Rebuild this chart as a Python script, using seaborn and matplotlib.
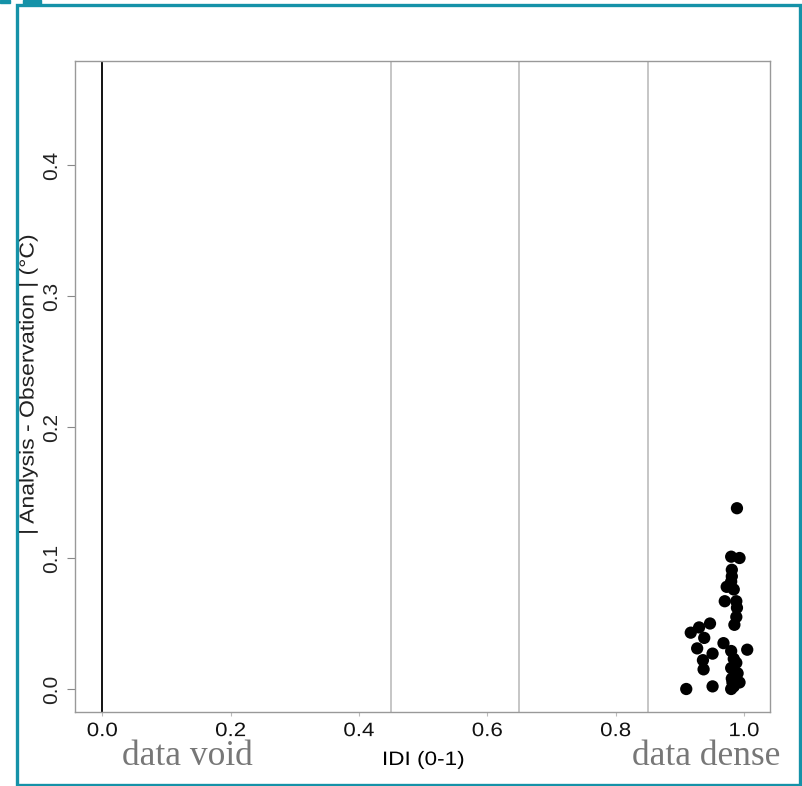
import matplotlib
matplotlib.use("Agg")
import matplotlib.pyplot as plt
from matplotlib.patches import Rectangle
from matplotlib.patheffects import AbstractPathEffect
from matplotlib.transforms import Affine2D
import seaborn as sns
import pandas as pd

# Data
idi = [0.989, 0.980, 0.993, 0.981, 0.981, 0.980, 0.973, 0.984, 0.970, 0.988,
       0.989, 0.988, 0.985, 0.947, 0.930, 0.917, 0.938, 0.968, 0.927, 1.005,
       0.951, 0.980, 0.984, 0.936, 0.988, 0.937, 0.980, 0.990, 0.981, 0.982,
       0.993, 0.910, 0.951, 0.980, 0.984]
abs_err = [0.138, 0.101, 0.100, 0.091, 0.086, 0.082, 0.078, 0.076, 0.067, 0.067,
           0.062, 0.055, 0.049, 0.050, 0.047, 0.043, 0.039, 0.035, 0.031, 0.030,
           0.027, 0.029, 0.023, 0.022, 0.020, 0.015, 0.016, 0.012, 0.008, 0.005,
           0.005, 0.000, 0.002, 0.000, 0.002]
grey_lines = [0.45, 0.65, 0.85]
xticks = [0.0, 0.2, 0.4, 0.6, 0.8, 1.0]
yticks = [0.0, 0.1, 0.2, 0.3, 0.4]

df = pd.DataFrame({"IDI": idi, "err": abs_err})


class Stretch(AbstractPathEffect):
    """Stretch glyphs along the text baseline about the text centre."""
    def __init__(self, sx=1.0, sy=1.0):
        super().__init__()
        self.sx, self.sy = sx, sy

    def draw_path(self, renderer, gc, tpath, affine, rgbFace=None):
        ext = tpath.get_extents()
        cx = 0.5 * (ext.x0 + ext.x1)
        cy = 0.5 * (ext.y0 + ext.y1)
        pre = Affine2D().translate(-cx, -cy).scale(self.sx, self.sy).translate(cx, cy)
        renderer.draw_path(gc, tpath, pre + affine, rgbFace)


sns.set_style("white")
plt.rcParams['font.family'] = ['Liberation Sans', 'DejaVu Sans']

fig = plt.figure(figsize=(8.03, 7.86), dpi=100)
W, H = 803, 786
ax = fig.add_axes([75.5 / W, (H - 712) / H, (770 - 75.5) / W, (712 - 61) / H])

for xv in grey_lines:
    ax.axvline(xv, color="#c2c2c2", lw=1.3, zorder=1)
ax.axvline(0.0, color="black", lw=1.3, zorder=1)

sns.scatterplot(data=df, x="IDI", y="err", color="black", s=78,
                edgecolor="none", ax=ax, zorder=3, legend=False)

ax.set_xlim(-0.0418, 1.0405)
ax.set_ylim(-0.01756, 0.4794)
ax.set_xticks(xticks)
ax.set_xticklabels([f"{v:.1f}" for v in xticks], fontsize=14, color="#111111")
ax.set_yticks(yticks)
ax.set_yticklabels([f"{v:.1f}" for v in yticks], fontsize=15, color="#222222",
                   rotation=90, va="center")
ax.tick_params(axis="y", length=5.5, width=0.8, color="#888888", pad=5, left=True)
ax.tick_params(axis="x", length=3, width=0.8, color="#bbbbbb", pad=5.0, bottom=True)
for lab in ax.get_xticklabels():
    lab.set_path_effects([Stretch(1.15, 1.0)])
for sp in ax.spines.values():
    sp.set_color("#999999")
    sp.set_linewidth(1.0)

ax.set_xlabel("")
ax.set_ylabel("")
fig.text(423.5 / W, 1 - 765 / H, "IDI (0-1)", ha="center", va="baseline",
         fontsize=14, color="black", path_effects=[Stretch(1.16, 1.0)])
fig.text(28 / W, 1 - 384.5 / H, "| Analysis - Observation | (°C)", rotation=90,
         ha="center", va="center", fontsize=14.5, color="#222222",
         path_effects=[Stretch(1.14, 1.0)])

fig.text(122 / W, 1 - 765 / H, "data void", ha="left", va="baseline",
         fontsize=25.5, color="#777777", family="Liberation Serif")
fig.text(632 / W, 1 - 765 / H, "data dense", ha="left", va="baseline",
         fontsize=25.5, color="#777777", family="Liberation Serif")

teal = "#1592a8"
fig.patches.append(Rectangle((17 / W, 1.5 / H), (800 - 17) / W, (781 - 1.5) / H,
                             transform=fig.transFigure, fill=False,
                             edgecolor=teal, lw=2.4))
fig.patches.append(Rectangle((0, 1 - 3 / H), 10 / W, 3 / H,
                             transform=fig.transFigure, color=teal))
fig.patches.append(Rectangle((23 / W, 1 - 4 / H), 18 / W, 4 / H,
                             transform=fig.transFigure, color=teal))

fig.savefig("out.png", dpi=100)
